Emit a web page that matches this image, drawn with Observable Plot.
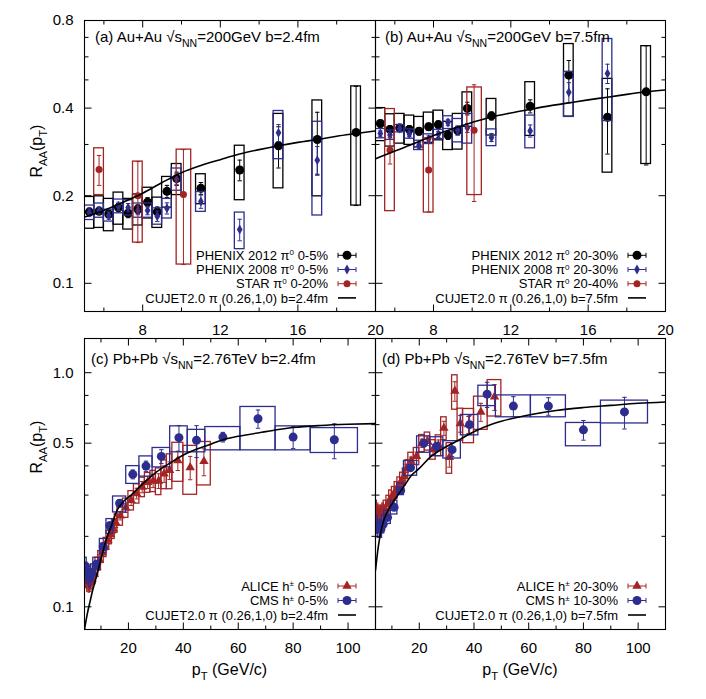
<!DOCTYPE html>
<html><head><meta charset="utf-8">
<script src="https://cdn.jsdelivr.net/npm/d3@7"></script>
<script src="https://cdn.jsdelivr.net/npm/@observablehq/plot@0.6"></script>
<style>
body{margin:0;background:#fff;}
#chart{position:relative;width:706px;height:699px;font-family:"Liberation Sans",Arial,sans-serif;}
#chart svg{position:absolute;left:0;top:0;overflow:visible;}
</style></head><body><div id="chart"></div>
<script>
// ---------------- DATA ----------------
// RHIC Au+Au 200 GeV (panels a, b): PHENIX bins (pT, GeV/c)
const phenixPt = [5.25,5.75,6.25,6.75,7.25,7.75,8.25,8.75,9.25,9.75,11,13,15,17,19];
const phenix08Pt = [5.25,5.75,6.25,6.75,7.25,7.75,8.25,8.75,9.25,9.75,11,13,15,17];
const starPt = [5.75,7.75,10.1];
const starLo = [5.5,7.5,9.75];
const starHi = [6.0,8.0,10.5];

// (a) central
const aP12 = [0.176,0.177,0.173,0.182,0.174,0.180,0.190,0.176,0.207,0.229,0.212,0.245,0.297,0.312,0.330];
const aP12Stat = [0.005,0.005,0.005,0.006,0.006,0.006,0.007,0.007,0.010,0.012,0.010,0.020,0.048,0.075,0.145];
const aP12Sys = [0.022,0.022,0.022,0.023,0.021,0.022,0.023,0.021,0.025,0.028,0.025,0.052,0.085,0.113,0.145];
const aP08 = [0.175,0.178,0.171,0.184,0.182,0.178,0.178,0.170,0.181,0.228,0.191,0.153,0.329,0.265];
const aP08Stat = [0.005,0.005,0.005,0.006,0.006,0.006,0.006,0.007,0.008,0.010,0.010,0.013,0.022,0.030];
const aP08Sys = [0.010,0.010,0.008,0.010,0.011,0.010,0.010,0.011,0.014,0.020,0.015,0.022,0.062,0.094];
const aStar = [0.246,0.200,0.202];
const aStarStat = [0.029,0.062,0.086];
const aStarSys = [0.045,0.062,0.086];
const aCurvePt = [5,6,7,8,9,10,11,12,13,14,15,16,17,18,19,20];
const aCurve = [0.169,0.178,0.190,0.204,0.222,0.240,0.254,0.266,0.278,0.288,0.297,0.305,0.312,0.320,0.327,0.334];

// (b) semi-peripheral
const bP12 = [0.354,0.338,0.342,0.338,0.333,0.345,0.351,0.323,0.335,0.399,0.376,0.406,0.519,0.372,0.455];
const bP12Stat = [0.010,0.010,0.010,0.010,0.010,0.010,0.010,0.011,0.012,0.020,0.012,0.021,0.064,0.094,0.200];
const bP12Sys = [0.046,0.043,0.040,0.039,0.040,0.041,0.041,0.036,0.047,0.054,0.054,0.085,0.145,0.132,0.198];
const bP08 = [0.327,0.323,0.340,0.326,0.298,0.313,0.325,0.357,0.336,0.342,0.317,0.334,0.453,0.526];
const bP08Stat = [0.007,0.007,0.007,0.007,0.007,0.008,0.008,0.009,0.010,0.012,0.010,0.016,0.036,0.040];
const bP08Sys = [0.012,0.012,0.010,0.012,0.011,0.012,0.012,0.018,0.031,0.040,0.021,0.043,0.080,0.165];
const bStar = [0.287,0.245,0.336];
const bStarStat = [0.030,0.069,0.145];
const bStarSys = [0.110,0.070,0.135];
const bCurvePt = [5,6,7,8,9,10,11,12,13,14,15,16,17,18,19,20];
const bCurve = [0.268,0.285,0.302,0.322,0.340,0.357,0.373,0.385,0.396,0.407,0.417,0.427,0.436,0.446,0.455,0.462];

// LHC Pb+Pb 2.76 TeV (panels c, d): CMS bins
const cmsPt = [4.4,5.2,6.0,6.8,8.4,10.8,13.2,16.8,21.6,26.4,32.0,38.4,44.8,54.4,67.2,80.0,95.0];
const cmsLo = [4.0,4.8,5.6,6.4,7.2,9.6,12.0,14.4,19.2,24.0,28.8,35.2,41.6,48.0,60.8,73.6,86.4];
const cmsHi = [4.8,5.6,6.4,7.2,9.6,12.0,14.4,19.2,24.0,28.8,35.2,41.6,48.0,60.8,73.6,86.4,103.6];
// ALICE bins
const alicePt = [4.25,4.75,5.25,5.75,6.25,6.75,7.5,8.5,9.5,10.5,11.5,12.5,13.5,14.5,15.5,17,19,21,23,25,27,29,31,33,35,38,42.5,47.5];
const aliceLo = [4.0,4.5,5.0,5.5,6.0,6.5,7,8,9,10,11,12,13,14,15,16,18,20,22,24,26,28,30,32,34,36,40,45];
const aliceHi = [4.5,5.0,5.5,6.0,6.5,7.0,8,9,10,11,12,13,14,15,16,18,20,22,24,26,28,30,32,34,36,40,45,50];

// (c) central
const cCms = [0.149,0.138,0.133,0.140,0.152,0.181,0.222,0.277,0.368,0.399,0.439,0.528,0.514,0.531,0.636,0.531,0.517];
const cCmsStat = [0.006,0.005,0.005,0.005,0.005,0.006,0.008,0.010,0.016,0.020,0.030,0.067,0.080,0.025,0.057,0.057,0.088];
const cCmsSysLo = [0.136,0.126,0.121,0.128,0.143,0.169,0.205,0.253,0.335,0.360,0.394,0.457,0.457,0.466,0.466,0.466,0.454];
const cCmsSysHi = [0.162,0.150,0.145,0.152,0.162,0.195,0.237,0.296,0.399,0.439,0.477,0.590,0.570,0.586,0.714,0.590,0.580];
const cAlice = [0.138,0.132,0.128,0.127,0.128,0.131,0.138,0.148,0.158,0.170,0.180,0.193,0.204,0.215,0.228,0.245,0.265,0.285,0.305,0.325,0.340,0.345,0.345,0.370,0.383,0.422,0.394,0.418];
const cAliceStat = [0.003,0.003,0.003,0.003,0.003,0.003,0.003,0.004,0.004,0.005,0.006,0.007,0.008,0.009,0.010,0.010,0.012,0.014,0.016,0.018,0.020,0.022,0.025,0.030,0.033,0.040,0.045,0.055];
const cAliceSys = [0.013,0.012,0.012,0.012,0.012,0.012,0.013,0.014,0.015,0.016,0.017,0.018,0.019,0.020,0.021,0.023,0.025,0.027,0.029,0.031,0.033,0.036,0.045,0.052,0.065,0.080,0.093,0.088];
const cCurvePt = [4,5,6,7,8,10,12,14,16,18,21,24,27,30,35,40,45,50,55,60,70,80,90,100,110];
const cCurve = [0.080,0.093,0.105,0.118,0.130,0.160,0.195,0.225,0.260,0.280,0.300,0.325,0.350,0.375,0.410,0.445,0.472,0.495,0.520,0.535,0.560,0.583,0.595,0.602,0.606];

// (d) semi-peripheral
const dCms = [0.224,0.215,0.215,0.225,0.241,0.266,0.314,0.393,0.500,0.484,0.469,0.600,0.810,0.720,0.720,0.570,0.680];
const dCmsStat = [0.007,0.007,0.007,0.007,0.007,0.008,0.009,0.012,0.018,0.020,0.030,0.055,0.100,0.070,0.062,0.055,0.105];
const dCmsSysLo = [0.205,0.197,0.197,0.206,0.226,0.248,0.300,0.363,0.455,0.440,0.430,0.540,0.720,0.645,0.645,0.485,0.607];
const dCmsSysHi = [0.245,0.235,0.235,0.246,0.257,0.284,0.336,0.420,0.535,0.530,0.510,0.660,0.880,0.800,0.800,0.610,0.760];
const dAlice = [0.262,0.255,0.250,0.248,0.250,0.255,0.262,0.275,0.290,0.300,0.315,0.330,0.345,0.360,0.390,0.420,0.440,0.500,0.510,0.470,0.490,0.580,0.435,0.835,0.607,0.600,0.680,0.790];
const dAliceStat = [0.006,0.006,0.006,0.006,0.006,0.006,0.006,0.007,0.008,0.009,0.010,0.011,0.012,0.013,0.015,0.016,0.018,0.020,0.022,0.024,0.026,0.040,0.040,0.080,0.050,0.050,0.060,0.100];
const dAliceSys = [0.022,0.021,0.021,0.021,0.021,0.021,0.022,0.023,0.024,0.025,0.026,0.027,0.029,0.030,0.033,0.035,0.037,0.042,0.045,0.045,0.050,0.065,0.065,0.140,0.095,0.100,0.110,0.140];
const dCurvePt = [4,5,6,7,8,10,12,15,17,20,24,30,35,40,46,50,60,70,80,90,100,110];
const dCurve = [0.143,0.180,0.210,0.234,0.250,0.275,0.298,0.335,0.363,0.390,0.436,0.484,0.520,0.560,0.600,0.620,0.660,0.690,0.710,0.725,0.740,0.750];

// axis ticks / labels
const topXMajor = [8,12,16,20], topXMinor = [6,10,14,18];
const topYMajor = [0.1,0.2,0.4,0.8], topYMinor = [0.3,0.5,0.6,0.7];
const botXMajor = [20,40,60,80,100], botXMinor = [10,30,50,70,90];
const botYMajor = [0.1,0.5,1.0], botYMinor = [0.2,0.3,0.4,0.6,0.8];

// ---------------- DRAWING ----------------
const W = 706, H = 699;
const BLUE = "#2d2d8f", RED = "#a32424", BLACK = "#000";
const chart = document.getElementById("chart");

const capSym = {draw(ctx, size){ const w = Math.sqrt(size/Math.PI); ctx.moveTo(-w,0); ctx.lineTo(w,0); }};
const segSym = (dx, dy) => ({draw(ctx){ ctx.moveTo(0,0); ctx.lineTo(dx,dy); }});

function series(xs, ys, stat, s0, s1, b0, b1, color, symbol, r) {
  const rows = xs.map((x,i)=>({x, y: ys[i], e: stat[i], s0: s0[i], s1: s1[i], b0: b0[i], b1: b1[i]}));
  return [
    Plot.rect(rows, {x1:"b0", x2:"b1", y1:"s0", y2:"s1", fill:"none", stroke: color, strokeWidth: 1.3, clip: true}),
    Plot.ruleX(rows, {x:"x", y1: d=>d.y-d.e, y2: d=>d.y+d.e, stroke: color, strokeWidth: 1, clip: true}),
    Plot.dot(rows, {x:"x", y: d=>d.y-d.e, symbol: capSym, r: 2.2, stroke: color, fill:"none", strokeWidth: 1, clip: true}),
    Plot.dot(rows, {x:"x", y: d=>d.y+d.e, symbol: capSym, r: 2.2, stroke: color, fill:"none", strokeWidth: 1, clip: true}),
    Plot.dot(rows, {x:"x", y:"y", symbol, r, fill: color, stroke: "none", clip: true})
  ];
}
const symSeries = (xs, ys, stat, sys, hw, color, symbol, r) =>
  series(xs, ys, stat, ys.map((v,i)=>v-sys[i]), ys.map((v,i)=>v+sys[i]),
         xs.map(x=>x-hw), xs.map(x=>x+hw), color, symbol, r);
const curve = (xs, ys) => Plot.line(xs.map((x,i)=>({x, y: ys[i]})), {x:"x", y:"y", stroke: BLACK, strokeWidth: 1.6, curve: "monotone-x", clip: true});

function axes(xd, yd, xMaj, xMin, yMaj, yMin, xLab, yLab, yFmt) {
  const [x0,x1] = xd, [y0,y1] = yd;
  const tk = (data, x, y, sym) => Plot.dot(data, {x, y, symbol: sym, r: 1, stroke: BLACK, fill: "none", strokeWidth: 1});
  const m = [
    tk(yMaj, ()=>x0, d=>d, segSym(7,0)), tk(yMaj, ()=>x1, d=>d, segSym(-7,0)),
    tk(yMin, ()=>x0, d=>d, segSym(4,0)), tk(yMin, ()=>x1, d=>d, segSym(-4,0)),
    tk(xMaj, d=>d, ()=>y0, segSym(0,-7)), tk(xMaj, d=>d, ()=>y1, segSym(0,7)),
    tk(xMin, d=>d, ()=>y0, segSym(0,-4)), tk(xMin, d=>d, ()=>y1, segSym(0,4)),
    Plot.text(xLab, {x: d=>d, y: ()=>y0, text: d=>String(d), dy: 19, fontSize: 15, fill: BLACK}),
    Plot.frame({stroke: BLACK, strokeWidth: 1.1})
  ];
  if (yLab) m.push(Plot.text(yLab, {x: ()=>x0, y: d=>d, text: yFmt, dx: -11, textAnchor: "end", fontSize: 15, fill: BLACK}));
  return m;
}

function makePanel({xd, yd, ml, mr, mt, mb, data, ax}) {
  const p = Plot.plot({
    width: W, height: H, marginLeft: ml, marginRight: mr, marginTop: mt, marginBottom: mb,
    x: {type: "linear", domain: xd, axis: null},
    y: {type: "log", domain: yd, axis: null},
    style: {background: "transparent", overflow: "visible", fontFamily: "Liberation Sans, Arial, sans-serif"},
    marks: [...data, ...ax]
  });
  chart.appendChild(p);
  return d3.select(p);
}

function rich(g, x, y, parts, {size=15, anchor="start", transform=null, supShift=0.42, small=0.7}={}) {
  const t = g.append("text").attr("x", x).attr("y", y).attr("font-size", size)
    .attr("text-anchor", anchor).attr("fill", "black").style("white-space", "pre")
    .attr("font-family", "Liberation Sans, Arial, sans-serif");
  if (transform) t.attr("transform", transform);
  let shift = 0;
  for (const [s, kind] of parts) {
    const target = kind === "sub" ? size*0.3 : kind === "sup" ? -size*supShift : 0;
    const ts = t.append("tspan").attr("dy", target - shift).text(s);
    if (kind) ts.attr("font-size", size*small);
    shift = target;
  }
  return t;
}

function legend(g, right, centers, rows) {
  rows.forEach((row, i) => {
    const cy = centers[i];
    rich(g, right - 47, cy + 4.6, row.parts, {size: 13, anchor: "end", supShift: 0.34, small: 0.62});
    const xa = right - 37, xb = right - 19, xm = (xa + xb) / 2;
    if (row.kind === "line") {
      g.append("line").attr("x1", xa).attr("x2", xb).attr("y1", cy).attr("y2", cy).attr("stroke", BLACK).attr("stroke-width", 1.6);
    } else {
      g.append("line").attr("x1", xa).attr("x2", xb).attr("y1", cy).attr("y2", cy).attr("stroke", row.color).attr("stroke-width", 1);
      for (const xx of [xa, xb]) g.append("line").attr("x1", xx).attr("x2", xx).attr("y1", cy-2.5).attr("y2", cy+2.5).attr("stroke", row.color);
      g.append("path").attr("d", d3.symbol(row.sym, Math.PI*row.r*row.r)()).attr("transform", `translate(${xm},${cy})`).attr("fill", row.color);
    }
  });
}

const topY = [0.08, 0.8], topX = [5, 20], botY = [0.08, 1.4], botX = [4, 110];
const f1 = d3.format(".1f");

// Panel (a)
const ga = makePanel({xd: topX, yd: topY, ml: 84, mr: 331, mt: 20, mb: 388,
  data: [
    ...symSeries(phenixPt, aP12, aP12Stat, aP12Sys, 0.25, BLACK, "circle", 4.5),
    ...symSeries(phenix08Pt, aP08, aP08Stat, aP08Sys, 0.25, BLUE, "diamond", 3),
    ...series(starPt, aStar, aStarStat, aStar.map((v,i)=>v-aStarSys[i]), aStar.map((v,i)=>v+aStarSys[i]), starLo, starHi, RED, "circle", 3.5),
    curve(aCurvePt, aCurve)
  ],
  ax: axes(topX, topY, topXMajor, topXMinor, topYMajor, topYMinor, topXMajor, topYMajor, d=>f1(d))
});
// Panel (b)
const gb = makePanel({xd: topX, yd: topY, ml: 375, mr: 41, mt: 20, mb: 388,
  data: [
    ...symSeries(phenixPt, bP12, bP12Stat, bP12Sys, 0.25, BLACK, "circle", 4.5),
    ...symSeries(phenix08Pt, bP08, bP08Stat, bP08Sys, 0.25, BLUE, "diamond", 3),
    ...series(starPt, bStar, bStarStat, bStar.map((v,i)=>v-bStarSys[i]), bStar.map((v,i)=>v+bStarSys[i]), starLo, starHi, RED, "circle", 3.5),
    curve(bCurvePt, bCurve)
  ],
  ax: axes(topX, topY, topXMajor, topXMinor, topYMajor, topYMinor, topXMajor, null)
});
// Panel (c)
const gc = makePanel({xd: botX, yd: botY, ml: 84, mr: 331, mt: 338, mb: 70,
  data: [
    ...series(alicePt, cAlice, cAliceStat, cAlice.map((v,i)=>v-cAliceSys[i]), cAlice.map((v,i)=>v+cAliceSys[i]), aliceLo, aliceHi, RED, "triangle", 3.5),
    ...series(cmsPt, cCms, cCmsStat, cCmsSysLo, cCmsSysHi, cmsLo, cmsHi, BLUE, "circle", 4.5),
    curve(cCurvePt, cCurve)
  ],
  ax: axes(botX, botY, botXMajor, botXMinor, botYMajor, botYMinor, botXMajor, botYMajor, d=>f1(d))
});
// Panel (d)
const gd = makePanel({xd: botX, yd: botY, ml: 375, mr: 41, mt: 338, mb: 70,
  data: [
    ...series(alicePt, dAlice, dAliceStat, dAlice.map((v,i)=>v-dAliceSys[i]), dAlice.map((v,i)=>v+dAliceSys[i]), aliceLo, aliceHi, RED, "triangle", 3.5),
    ...series(cmsPt, dCms, dCmsStat, dCmsSysLo, dCmsSysHi, cmsLo, cmsHi, BLUE, "circle", 4.5),
    curve(dCurvePt, dCurve)
  ],
  ax: axes(botX, botY, botXMajor, botXMinor, botYMajor, botYMinor, botXMajor, null)
});

// Titles
rich(ga, 95, 42, [["(a) Au+Au √s"],["NN","sub"],["=200GeV b=2.4fm"]]);
rich(gb, 385, 42, [["(b) Au+Au √s"],["NN","sub"],["=200GeV b=7.5fm"]]);
rich(gc, 91, 364, [["(c) Pb+Pb √s"],["NN","sub"],["=2.76TeV b=2.4fm"]]);
rich(gd, 382, 364, [["(d) Pb+Pb √s"],["NN","sub"],["=2.76TeV b=7.5fm"]]);

// Axis titles
rich(ga, 0, 0, [["R"],["AA","sub"],["(p"],["T","sub"],[")"]], {size: 16, anchor: "middle", transform: "translate(42,151) rotate(-90)"});
rich(gc, 0, 0, [["R"],["AA","sub"],["(p"],["T","sub"],[")"]], {size: 16, anchor: "middle", transform: "translate(42,447) rotate(-90)"});
rich(gc, 229.5, 675, [["p"],["T","sub"],[" (GeV/c)"]], {size: 16, anchor: "middle"});
rich(gd, 520, 675, [["p"],["T","sub"],[" (GeV/c)"]], {size: 16, anchor: "middle"});

// Legends
const topRows = [255.3, 269.5, 283.7, 297.9];
legend(ga, 375, topRows, [
  {parts: [["PHENIX 2012 π"],["0","sup"],[" 0-5%"]], color: BLACK, sym: d3.symbolCircle, r: 4.5},
  {parts: [["PHENIX 2008 π"],["0","sup"],[" 0-5%"]], color: BLUE, sym: d3.symbolDiamond, r: 3},
  {parts: [["STAR π"],["0","sup"],[" 0-20%"]], color: RED, sym: d3.symbolCircle, r: 3.5},
  {parts: [["CUJET2.0 π (0.26,1,0) b=2.4fm"]], kind: "line"}
]);
legend(gb, 665, topRows, [
  {parts: [["PHENIX 2012 π"],["0","sup"],[" 20-30%"]], color: BLACK, sym: d3.symbolCircle, r: 4.5},
  {parts: [["PHENIX 2008 π"],["0","sup"],[" 20-30%"]], color: BLUE, sym: d3.symbolDiamond, r: 3},
  {parts: [["STAR π"],["0","sup"],[" 20-40%"]], color: RED, sym: d3.symbolCircle, r: 3.5},
  {parts: [["CUJET2.0 π (0.26,1,0) b=7.5fm"]], kind: "line"}
]);
const botRows = [586, 600.5, 615];
legend(gc, 375, botRows, [
  {parts: [["ALICE h"],["±","sup"],[" 0-5%"]], color: RED, sym: d3.symbolTriangle, r: 3.5},
  {parts: [["CMS h"],["±","sup"],[" 0-5%"]], color: BLUE, sym: d3.symbolCircle, r: 4.5},
  {parts: [["CUJET2.0 π (0.26,1,0) b=2.4fm"]], kind: "line"}
]);
legend(gd, 665, botRows, [
  {parts: [["ALICE h"],["±","sup"],[" 20-30%"]], color: RED, sym: d3.symbolTriangle, r: 3.5},
  {parts: [["CMS h"],["±","sup"],[" 10-30%"]], color: BLUE, sym: d3.symbolCircle, r: 4.5},
  {parts: [["CUJET2.0 π (0.26,1,0) b=7.5fm"]], kind: "line"}
]);
</script></body></html>
